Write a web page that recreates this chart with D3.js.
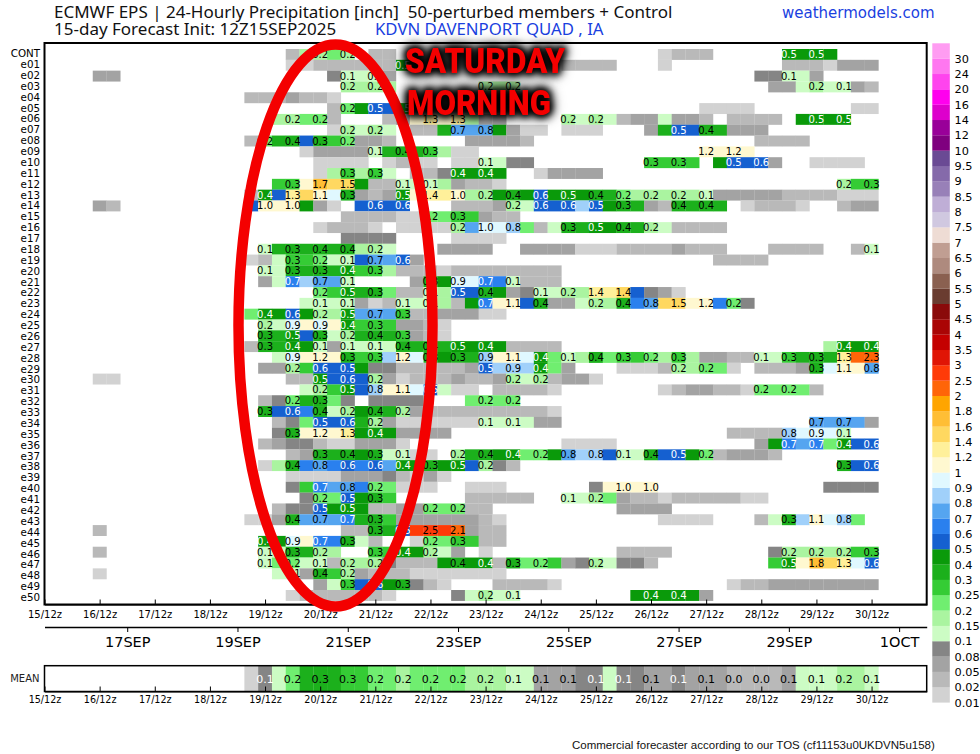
<!DOCTYPE html>
<html>
<head>
<meta charset="utf-8">
<script src="https://cdn.jsdelivr.net/npm/d3@7/dist/d3.min.js"></script>
<style>
  html, body { margin: 0; padding: 0; background: #fff; }
  svg { display: block; }
  text { font-family: "DejaVu Sans", sans-serif; }
  .axis path, .axis line { stroke: #000; }
  .axis text { fill: #000; }
</style>
</head>
<body>
<svg id="chart" width="980" height="754"></svg>
<script>
// each run: [first 6-hourly step after 15/12z, value at that step, value at the next step, ...]
const CONT = [[18,.03,.15,.18,.22,.18],[24,.03,.03],[45,.015,.03,.03,.03],[54,.47,.45,.47,.45]];
const e01 = [[18,.015,.015,.03,.03,.03,.03,.03,.03,.45,.45],[38,.03,.03,.03,.03],[45,.015],[54,.03,.03,.03,.015,.05,.05,.05]];
const e02 = [[4,.06,.06],[21,.09,.12,.12,.12,.05],[52,.09,.09,.12,.12,.05]];
const e03 = [[22,.17,.15,.17,.15],[32,.18,.18,.18],[53,.06,.06,.13,.17,.13,.13,.05,.03]];
const e04 = [[15,.03,.03,.03,.06,.03,.03,.015]];
const e05 = [[21,.03,.22,.45,.52,.55,.45],[48,.015,.015,.015,.015],[59,.015,.015]];
const e06 = [[17,.15,.17,.22,.22,.03],[25,.03,.05,1.1,1.3,1.1,1.3,.15,.05,.05],[38,.17,.13,.17,.13,.03,.05,.07,.13,.05,.05,.03],[50,.03,.03,.03,.03],[55,.45,.47,.45,.47]];
const e07 = [[21,.015,.17,.13,.17,.13],[27,.03,.03,.32,.72,.72,.78,.45,.05,.015,.015],[38,.015,.015,.015],[44,.05,.32,.52,.55,.38,.38,.05,.05,.05]];
const e08 = [[15,.03,.22,.32,.38,.55,.32,.25,.22,.05,.05,.03],[31,.05,.05,.05,.05,.03],[52,.03,.03,.03,.03]];
const e09 = [[19,.015,.05,.05,.05,.05,.13,.32,.38,.3,.28,.15,.015,.015],[48,1.18,1.1,1.18,1.1]];
const e10 = [[20,.015,.015,.015,.015],[25,.015,.03,.015,.015],[30,.015,.015,.13,.13,.09,.09],[44,.28,.28,.28,.28],[49,.45,.52,.55,.58,.06],[56,.015,.015,.015,.015]];
const e11 = [[20,.015,.15,.28,.15,.28,.13],[27,.03,.03,.09,.42,.42,.42,.42],[36,.015,.05,.05,.05,.05]];
const e12 = [[17,.26,.28,1.1,1.7,1.5,1.48,.45,.03,.03,.13,.13,.13,.15,.06,.03,.03,.015],[58,.17,.28,.28]];
const e13 = [[15,.03,.42,.55,1.3,1.45,1.1,.95,.32,.05,.03,.06,.47,1.1,1.38,1.3,1.02,.15,.17,.45,.38,.42,.58,.42,.47,.42,.38,.38,.22,.15,.17,.15,.17,.15,.13,.05,.05,.05,.05,.05,.03,.03,.03,.03,.015,.015,.015]];
const e14 = [[4,.06,.03],[15,.55,1.02,1.02,1.02,.45,.06,.015],[23,.55,.58,.55,.58],[30,.03,.03,.03,.06,.17,.13,.58,.55,.58,.82,.52,.45,.32,.32,.05,.03,.38,.38,.38,.38],[51,.015,.03,.03,.03,.015],[58,.03,.06,.06]];
const e15 = [[22,.03,.03,.03,.03,.015,.015,.22,.22,.28,.28,.06,.03,.03]];
const e16 = [[20,.015,.03,.03,.03,.015],[26,.015,.015,.015,.015],[30,.17,.72,.98,.95,.82,.22,.03,.13,.32,.32,.47,.42,.38,.38,.17,.13,.03,.03,.03,.03]];
const e17 = [[22,.09,.09,.09,.09],[30,.015,.015,.015,.015]];
const e18 = [[16,.13,.32,.32,.32,.38,.35,.38,.15,.17,.13],[29,.06,.06,.06,.06],[35,.06,.06,.06,.06,.015,.015,.015],[42,.03,.03,.03,.03,.05,.03,.03,.03],[53,.03,.03,.03,.03],[59,.03,.13]];
const e19 = [[15,.015,.03,.13,.28,.28,.22,.13,.13,.55,.72,.72,.58,.05],[49,.03,.03,.03,.03]];
const e20 = [[16,.13,.13,.32,.38,.32,.38,.42,.28,.28,.15,.03,.03,.03,.015,.03,.03,.03,.03,.03,.03,.03,.03]];
const e21 = [[16,.06,.13,.68,.82,.72,.72,.13],[27,.05,.32,.42,.92,.92,.68,.65,.13,.03,.03,.03]];
const e22 = [[20,.22,.25,.47,.38,.32,.22,.03,.03,.13,.15,.52,.55,.38,.42,.05,.09,.13,.13,.17,.15,1.38,1.3,1.42,.55,.09,.05,.015]];
const e23 = [[19,.13,.13,.13,.13,.05,.015,.03,.13,.13,.13,.15,.03,.42,.68,1.1,1.1,.55,.38,.05,.07,.13,.17,.15,.38,.65,.78,1.45,1.48,1.15,1.18,.65,.22,.08]];
const e24 = [[15,.22,.42,.45,.58,.45,.17,.15,.47,.72,.72,.72,.28,.03,.03,.05,.05,.05,.015,.015]];
const e25 = [[16,.17,.13,.92,1.05,.92,1.05,.42,.28,.28,.28,.07,.07,.03,.015]];
const e26 = [[16,.32,.3,.47,.55,.32,.13,.17,.32,.38,.38,.28,.07,.03,.015]];
const e27 = [[15,.03,.32,.35,.42,.42,.13,.05,.13,.13,.13,.13,.38,.38,.38,.38,.47,.42,.42,.42,.03,.03,.03,.03],[57,.15,.42,.42,.42]];
const e28 = [[17,.13,.92,1.18,1.18,1.1,.32,.28,.28,.82,1.18,.95,.32,.42,.32,.38,.88,1.1,1.1,.95,.42,.22,.13,.15,.38,.22,.28,.28,.22,.15,.28,.15,.05,.05,.03,.03,.13,.13,.28,.38,.32,.38,1.3,2.3,2.3]];
const e29 = [[16,.07,.07,.17,.28,.58,.55,.52,.45,.08,.08,.03,.03,.03,.03,.03,.07,.52,.82,.88,.82,.42,.2,.05],[42,.015,.015,.015,.03,.17,.15,.22,.22,.015],[52,.03,.03,.03,.05,.32,.95,1.1,1.1,.78]];
const e30 = [[4,.015,.015],[18,.03,.03,.47,.55,.58,.55,.17,.05,.015,.03,.03,.03,.05,.03,.03,.07,.17,.13,.17,.03,.05,.05,.015]];
const e31 = [[19,.13,.17,.28,.47,.55,.82,1.15,1.1,.95,.52,.13,.015,.015],[33,.03,.03,.03,.03,.015],[45,.015,.03,.05,.05,.03,.03,.015,.22,.22,.22,.22,.03]];
const e32 = [[16,.03,.09,.22,.32,.32,.22,.08],[24,.08,.08,.08,.08],[31,.22,.22,.22,.22]];
const e33 = [[16,.32,.55,.58,.65,.38,.13,.17,.4,.38,.38,.17,.05,.03,.03,.03,.03,.03,.03,.03,.03,.03,.015]];
const e34 = [[17,.03,.08,.22,.52,.55,.58,.3,.17,.05,.015,.015,.015,.015,.015,.015,.13,.13,.13,.13,.05,.05],[56,.72,.72,.72,.72,.05]];
const e35 = [[17,.08,.32,1.18,1.18,1.15,1.3,.4,.42,.42,.07,.07,.07,.07],[50,.03,.03,.03,.03,.82,.95,.92,.95,.13]];
const e36 = [[16,.03,.06,.08,.08,.03,.015,.015,.05,.05,.05,.015],[38,.015,.015,.015,.015],[52,.05,.45,.68,.72,.68,.22,.42,.55,.58]];
const e37 = [[18,.03,.05,.32,.32,.38,.42,.32,.13,.13,.015,.015],[30,.17,.35,.38,.42,.42,.2,.22,.42,.78,.85,.82,.55,.13,.13,.38,.55,.52,.45,.22,.03,.05,.05,.05,.03]];
const e38 = [[16,.015,.17,.38,.65,.78,.65,.58,.65,.58,.78,.42,.42,.32,.42,.47,.55,.17,.08,.03],[58,.32,.55,.58]];
const e39 = [[18,.015,.015,.015,.015,.05,.05,.05,.08,.03,.015,.05,.015]];
const e40 = [[18,.08,.28,.68,.72,.78,.6,.22,.22,.015,.015,.015],[31,.015,.015,.015],[40,.08,1.02,1.02,1.02,1.02],[57,.08,.08,.08,.08]];
const e41 = [[19,.08,.22,.22,.52,.45,.32,.28],[31,.03,.03,.03,.03,.03],[38,.13,.13,.17,.22,.05,.03,.03,.015,.03,.03,.03,.03,.03,.015,.015]];
const e42 = [[17,.03,.08,.08,.52,.42,.47,.42],[24,.03,.03,.05,.05,.22,.22,.22,.03,.03],[42,.05,.05,.05,.05]];
const e43 = [[15,.015,.015,.05,.38,.72,.72,.72,.68,.3,.32,.28,.07,.07,.07,.07,.05,.05,.03,.015],[45,.015,.015,.015,.015],[52,.03,.13,.32,.82,1.1,.95,.82,.22]];
const e44 = [[4,.03],[22,.03,.03,.32,.38,.52,2.52,2.52,2.52,2.1,.05,.03,.03]];
const e45 = [[16,.42,.45,.92,1.1,.68,.65,.32,.13,.03],[27,.015,.22,.22,.28,.28,.03,.03]];
const e46 = [[4,.03],[16,.13,.13,.32,.32,.17,.15],[24,.28,.28,.42,.42,.17,.13,.05],[32,.015],[42,.03,.03,.03,.03],[53,.08,.17,.15,.17,.15,.17,.28,.28]];
const e47 = [[16,.13,.22,.22,.13,.13,.03,.17,.15,.17,.08,.03,.03,.03,.42,.38,.42,.42,.03,.32,.2,.22,.28,.05,.08,.17,.13,.08,.08,.03],[53,.28,.47,1.05,1.78,1.45,1.3,.95,.58]];
const e48 = [[4,.015],[17,.13,.13,.05,.38,.28,.17,.05,.03,.03,.03,.015,.015,.015,.015,.015,.015,.015]];
const e49 = [[20,.06,.13,.28,.55,.55,.42,.32,.08,.03,.015],[33,.03,.03,.03,.03,.015],[50,.015,.03,.03,.05,.05,.05,.05,.05,.05,.05,.05]];
const e50 = [[18,.015,.03,.03,.03,.03,.03,.03,.015],[30,.08,.13,.17,.13,.13],[43,.42,.42,.42,.42,.42,.05]];
const meanRuns = [[15,.015,.09,.13,.22,.32,.32,.32,.28,.28,.22,.22,.18,.22,.22,.22,.22,.17,.17,.17,.13,.13,.06,.06,.06,.09,.09,.13,.09,.09,.06,.06,.09,.06,.06,.06,.03,.03,.03,.03,.06,.13,.13,.13,.17,.17,.13]];

const memberNames = ["CONT","e01","e02","e03","e04","e05","e06","e07","e08","e09","e10","e11","e12","e13","e14","e15","e16","e17","e18","e19","e20","e21","e22","e23","e24","e25","e26","e27","e28","e29","e30","e31","e32","e33","e34","e35","e36","e37","e38","e39","e40","e41","e42","e43","e44","e45","e46","e47","e48","e49","e50"];
const memberRuns = [CONT,e01,e02,e03,e04,e05,e06,e07,e08,e09,e10,e11,e12,e13,e14,e15,e16,e17,e18,e19,e20,e21,e22,e23,e24,e25,e26,e27,e28,e29,e30,e31,e32,e33,e34,e35,e36,e37,e38,e39,e40,e41,e42,e43,e44,e45,e46,e47,e48,e49,e50];

const stepTicks = [0,4,8,12,16,20,24,28,32,36,40,44,48,52,56,60];
const stepTickLabels = ["15/12z","16/12z","17/12z","18/12z","19/12z","20/12z","21/12z","22/12z","23/12z","24/12z","25/12z","26/12z","27/12z","28/12z","29/12z","30/12z"];
const dateTicks = [6,14,22,30,38,46,54,62];
const dateTickLabels = ["17SEP","19SEP","21SEP","23SEP","25SEP","27SEP","29SEP","1OCT"];

const legendBreaks = [.01,.02,.05,.08,.1,.15,.2,.25,.3,.4,.5,.6,.7,.8,.9,1,1.2,1.4,1.6,1.8,2,2.5,3,3.5,4,4.5,5,5.5,6,6.5,7,7.5,8,8.5,9,9.5,10,12,14,16,20,24,30];
const legendColors = ["#d2d2d2","#b9b9b9","#a3a3a3","#858585","#ccfcc4","#aaf4a0","#70ee70","#35cc35","#1cb01c","#0a9a0a","#1560d0","#2a80ee","#55a5f0","#a0d0fa","#e0f8ff","#fff8d0","#fff09a","#ffd860","#ffbe35","#ffa500","#ff6508","#ff3a08","#e01505","#c40000","#aa0505","#8a0a0a","#6a3c30","#8a6050","#ae8a7e","#c09e92","#eedcd4","#d0c8e0","#bfaed6","#9880b8","#856aaa","#6a4a94","#7f007f","#990099","#dd00cc","#ff00ee","#ff44ee","#ff77f0","#ff9cf2"];

const svg = d3.select("#chart");
const fmt = d3.format(".1f");

const x = d3.scaleLinear().domain([0, 64]).range([44.5, 926.7]);
const cellW = x(1) - x(0);
const y = d3.scaleBand().domain(memberNames).range([49, 49 + 51 * 10.82]);
const rowNameY = d3.scalePoint().domain(memberNames).range([53.5, 597.3]);
const color = d3.scaleThreshold().domain(legendBreaks).range(["#ffffff"].concat(legendColors));
const legendY = d3.scaleBand().domain(legendBreaks.slice().reverse()).range([43.3, 702.5]);

const plot = { top: 43, bottom: 604.5, left: x(0), right: x(64) };
const meanBox = { top: 665.7, bottom: 691.5 };

const expand = runs => runs.flatMap(run => run.slice(1).map((value, i) => ({ step: run[0] + i, value })));
const labelInk = v => ((v >= .4 && v < .7) || (v >= .08 && v < .1)) ? "#fff" : "#000";

// member rows
const rowGroups = svg.append("g").selectAll("g").data(memberNames).join("g")
  .attr("transform", d => `translate(0,${y(d)})`);
rowGroups.each(function (name, i) {
  const cells = expand(memberRuns[i]);
  const g = d3.select(this);
  g.selectAll("rect").data(cells).join("rect")
    .attr("x", d => x(d.step) - cellW / 2)
    .attr("width", cellW + .2)
    .attr("height", y.bandwidth() + .1)
    .attr("fill", d => color(d.value));
  g.selectAll("text").data(cells.filter(d => d.step % 2 === 0 && d.value >= .1)).join("text")
    .attr("x", d => x(d.step))
    .attr("y", y.bandwidth() / 2)
    .attr("dy", ".36em")
    .attr("text-anchor", "middle")
    .attr("font-size", 10)
    .attr("fill", d => labelInk(d.value))
    .text(d => fmt(d.value));
});

// row names
svg.append("g").selectAll("text").data(memberNames).join("text")
  .attr("x", 40)
  .attr("y", d => rowNameY(d))
  .attr("dy", ".36em")
  .attr("text-anchor", "end")
  .attr("font-size", 10.3)
  .text(d => d);

// mean row
const meanCells = expand(meanRuns);
svg.append("g").selectAll("rect").data(meanCells).join("rect")
  .attr("x", d => x(d.step) - cellW / 2)
  .attr("y", meanBox.top)
  .attr("width", cellW + .2)
  .attr("height", meanBox.bottom - meanBox.top)
  .attr("fill", d => color(d.value));
svg.append("g").selectAll("text").data(meanCells.filter(d => d.step % 2 === 0)).join("text")
  .attr("x", d => x(d.step))
  .attr("y", (meanBox.top + meanBox.bottom) / 2)
  .attr("dy", ".36em")
  .attr("text-anchor", "middle")
  .attr("font-size", 11)
  .attr("fill", d => labelInk(d.value))
  .text(d => fmt(d.value));
svg.append("text").attr("x", 39.5).attr("y", 678.5).attr("dy", ".36em")
  .attr("text-anchor", "end").attr("font-size", 10).attr("font-weight", 500).attr("fill", "#222").text("MEAN");

// frames
[[plot.top, plot.bottom, 2], [meanBox.top, meanBox.bottom, 1.5]].forEach(([t, b, w]) => {
  svg.append("rect").attr("x", plot.left).attr("y", t)
    .attr("width", plot.right - plot.left).attr("height", b - t)
    .attr("fill", "none").attr("stroke", "#000").attr("stroke-width", w);
});

// axes
const stepLabel = d => stepTickLabels[stepTicks.indexOf(d)];
const stepAxis = padding => d3.axisBottom(x).tickValues(stepTicks).tickFormat(stepLabel)
  .tickSizeInner(-5).tickSizeOuter(0).tickPadding(padding);
svg.append("g").attr("class", "axis").attr("transform", `translate(0,${plot.bottom})`)
  .call(stepAxis(6)).call(g => g.selectAll("text").attr("font-size", 10).style("font-family", "'DejaVu Sans'"));
svg.append("g").attr("class", "axis").attr("transform", `translate(0,${meanBox.bottom})`)
  .call(stepAxis(5)).call(g => g.selectAll("text").attr("font-size", 9.6).style("font-family", "'DejaVu Sans'"));
const dateAxis = d3.axisBottom(x).tickValues(dateTicks)
  .tickFormat(d => dateTickLabels[dateTicks.indexOf(d)])
  .tickSizeInner(5).tickSizeOuter(0).tickPadding(5);
svg.append("g").attr("class", "axis").attr("transform", "translate(0,627)")
  .call(dateAxis)
  .call(g => g.select(".domain").attr("stroke-width", 1.5))
  .call(g => g.selectAll("text").attr("font-size", 14.5).style("font-family", "'DejaVu Sans'"));

// legend
svg.append("g").selectAll("rect").data(legendBreaks).join("rect")
  .attr("x", 932.3).attr("width", 17.5)
  .attr("y", d => legendY(d)).attr("height", legendY.bandwidth() + .1)
  .attr("fill", d => color(d));
svg.append("g").selectAll("text").data(legendBreaks).join("text")
  .attr("x", 954.5)
  .attr("y", d => legendY(d) + legendY.bandwidth())
  .attr("dy", ".36em")
  .attr("font-size", 11.3)
  .text(d => String(d));

// titles
svg.append("text").attr("x", 54).attr("y", 18).attr("font-size", 17).attr("fill", "#111")
  .style("font-family", "'Noto Sans'").attr("xml:space", "preserve")
  .text("ECMWF EPS | 24-Hourly Precipitation [inch]  50-perturbed members + Control");
svg.append("text").attr("x", 54).attr("y", 35).attr("font-size", 17).attr("fill", "#111")
  .style("font-family", "'Noto Sans'")
  .text("15-day Forecast Init: 12Z15SEP2025");
svg.append("text").attr("x", 375).attr("y", 35).attr("font-size", 16.75).attr("fill", "#1a3fe0")
  .style("font-family", "'Noto Sans'")
  .text("KDVN DAVENPORT QUAD , IA");
svg.append("text").attr("x", 782).attr("y", 18).attr("font-size", 15).attr("fill", "#1a3fe0")
  .attr("font-weight", 500)
  .text("weathermodels.com");
svg.append("text").attr("x", 572).attr("y", 749).attr("font-size", 11.5).attr("fill", "#111")
  .style("font-family", "'Liberation Sans'")
  .text("Commercial forecaster according to our TOS (cf11153u0UKDVN5u158)");

// hand-drawn annotation
svg.append("ellipse").attr("cx", 335.5).attr("cy", 325.5).attr("rx", 97).attr("ry", 281)
  .attr("fill", "none").attr("stroke", "#f40000").attr("stroke-width", 10.5);
[["SATURDAY", 405, 73, 160], ["MORNING", 407, 115, 144]].forEach(([t, px, py, len]) => {
  svg.append("text").attr("x", px).attr("y", py)
    .attr("textLength", len).attr("lengthAdjust", "spacingAndGlyphs")
    .attr("font-size", 35).attr("font-weight", 900).attr("fill", "#f40000")
    .style("font-family", "Roboto")
    .style("filter", "drop-shadow(0 0 3px #000) drop-shadow(0 0 4px #000) drop-shadow(0 0 4px #000)")
    .text(t);
});
</script>
</body>
</html>
